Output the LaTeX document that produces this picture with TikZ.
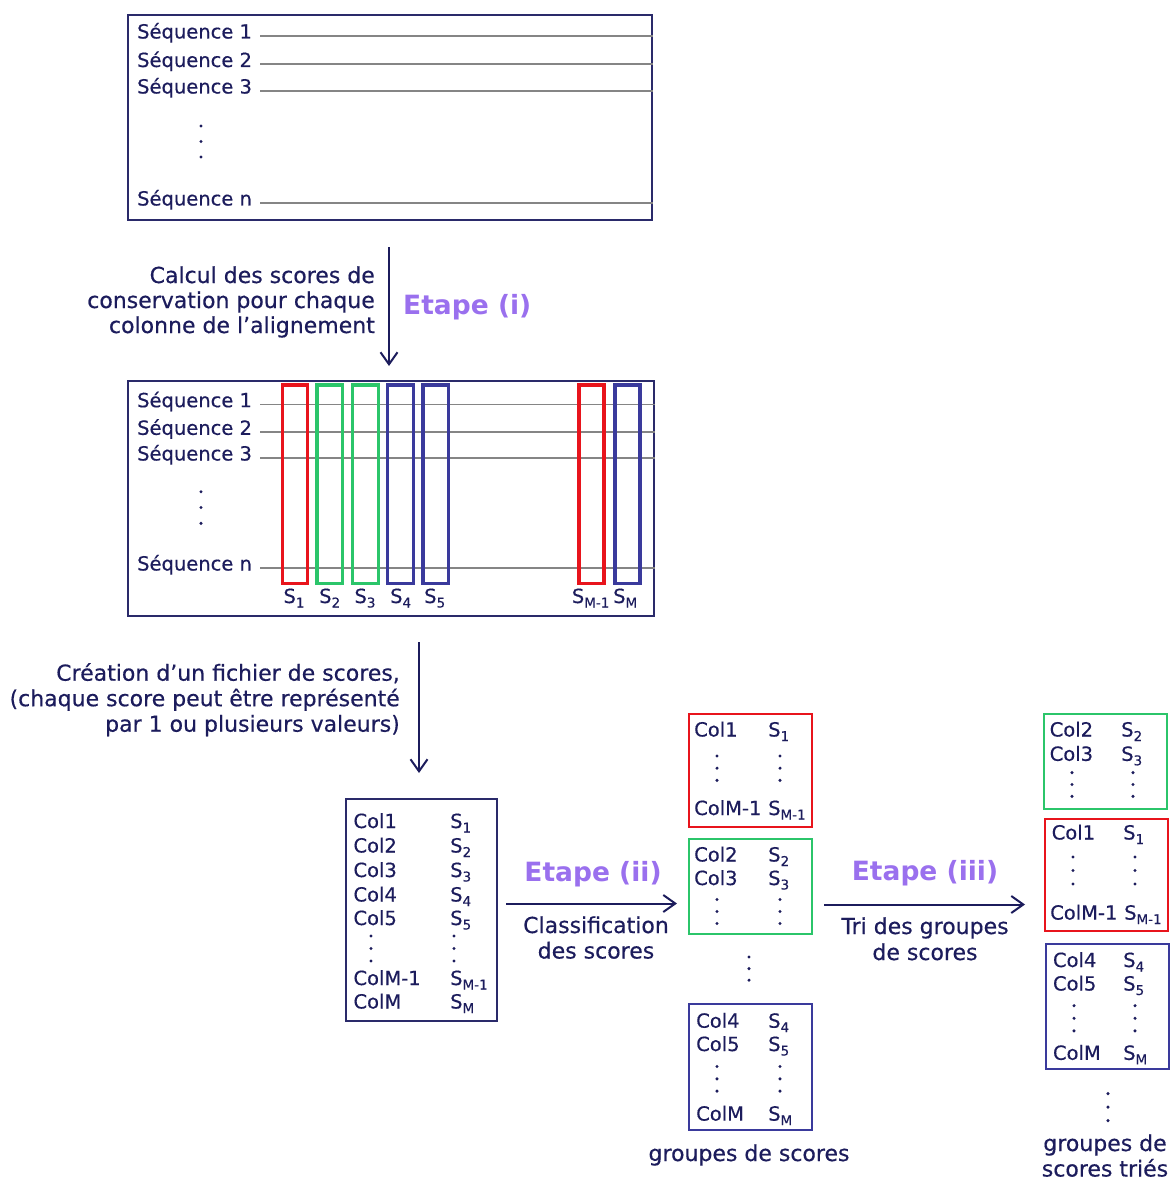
\documentclass[tikz,border=0pt]{standalone}
\usepackage{fontspec}
\setmainfont{DejaVu Sans}[UprightFeatures={FakeBold=0.45}]
\usetikzlibrary{arrows.meta}
\definecolor{navy}{HTML}{1C1C5C}
\definecolor{boxnavy}{HTML}{2A2A6A}
\definecolor{rred}{HTML}{E8141C}
\definecolor{rgreen}{HTML}{2BC56A}
\definecolor{rblue}{HTML}{3A3A9C}
\definecolor{etape}{HTML}{9A70EE}
\definecolor{seqgray}{HTML}{858585}
\newcommand\sub[1]{\raisebox{-4.5pt}{\fontsize{13.5}{13.5}\selectfont#1}}
\newcommand\vdts[3]{\foreach \k in {0,1,2}{\fill[navy] (#1,{#2+\k*#3}) circle (1.7);}}
\begin{document}
\begin{tikzpicture}[x=1pt,y=-1pt,
  txt/.style={inner sep=0pt, text=navy, font=\fontsize{19.5}{23}\selectfont, anchor=base west},
  ann/.style={inner sep=0pt, text=navy, font=\fontsize{22}{25}\selectfont},
  etp/.style={inner sep=0pt, text=etape, font=\fontsize{26.5}{30}\selectfont\bfseries, anchor=base},
  frame/.style={draw=boxnavy, line width=1.8pt, inner sep=0pt, anchor=north west},
  grp/.style={line width=2pt, inner sep=0pt, anchor=north west, minimum width=123, fill=none},
  seqline/.style={draw=seqgray, line width=1.8pt},
  colbox/.style={line width=3.5pt},
  arr/.style={draw=navy, line width=2pt, -{Straight Barb[length=12pt,width=17pt]}},
]
\useasboundingbox (0,0) rectangle (1170,1182);

% ---------- Box A ----------
\node[frame, minimum width=524, minimum height=205] (A) at (127,14) {};
\node[txt] (a1) at (137,38.5) {Séquence 1};
\node[txt] (a2) at (137,67) {Séquence 2};
\node[txt] (a3) at (137,93.5) {Séquence 3};
\node[txt] (an) at (137,205.5) {Séquence n};
\foreach \n in {a1,a2,a3,an}{\draw[seqline] ([xshift=8]\n.mid east) -- (\n.mid -| A.east);}
\vdts{201}{126}{15.5}

% ---------- Arrow (i) ----------
\coordinate (i1) at (389,247);
\coordinate (i2) at (389,366);
\draw[arr] (i1) -- (i2);
\node[ann, anchor=base east] (c1) at (375,283) {Calcul des scores de};
\node[ann, anchor=base east] (c2) at (375,308) {conservation pour chaque};
\node[ann, anchor=base east] (c3) at (375,333) {colonne de l’alignement};
\node[etp, anchor=base west] (e1) at (403,314) {Etape (i)};

% ---------- Box B ----------
\node[frame, minimum width=526, minimum height=235] (B) at (127,380) {};
\node[txt] (b1) at (137,407.2) {Séquence 1};
\node[txt] (b2) at (137,434.8) {Séquence 2};
\node[txt] (b3) at (137,460.5) {Séquence 3};
\node[txt] (bn) at (137,570.5) {Séquence n};
\foreach \n in {b1,b2,b3,bn}{\draw[seqline] ([xshift=8]\n.mid east) -- (\n.mid -| B.east);}
\vdts{201}{491.7}{15.8}
\draw[colbox, draw=rred]   (282.5,385) rectangle (307.3,583.3);
\draw[colbox, draw=rgreen] (316.8,385) rectangle (342.3,583.3);
\draw[colbox, draw=rgreen] (352.5,385) rectangle (378.3,583.3);
\draw[colbox, draw=rblue]  (387.5,385) rectangle (413.3,583.3);
\draw[colbox, draw=rblue]  (422.8,385) rectangle (448.3,583.3);
\draw[colbox, draw=rred]   (578.8,385) rectangle (604.0,583.3);
\draw[colbox, draw=rblue]  (614.8,385) rectangle (640.0,583.3);
\node[txt] (l1) at (283.3,603) {S\sub{1}};
\node[txt] (l2) at (319,603) {S\sub{2}};
\node[txt] (l3) at (354.3,603) {S\sub{3}};
\node[txt] (l4) at (390,603) {S\sub{4}};
\node[txt] (l5) at (424,603) {S\sub{5}};
\node[txt] (lm1) at (571.7,603) {S\sub{M-1}};
\node[txt] (lm) at (613,603) {S\sub{M}};

% ---------- Arrow 2 ----------
\coordinate (j1) at (419,642);
\coordinate (j2) at (419,773);
\draw[arr] (j1) -- (j2);
\node[ann, anchor=base east] (d1) at (400,680.7) {Création d’un fichier de scores,};
\node[ann, anchor=base east] (d2) at (400,706.2) {(chaque score peut être représenté};
\node[ann, anchor=base east] (d3) at (400,731.7) {par 1 ou plusieurs valeurs)};

% ---------- Box C ----------
\node[frame, minimum width=151, minimum height=222.3] (C) at (345,797.7) {};
\node[txt] (k1) at (353.3,828) {Col1};  \node[txt] (t1) at (450,828) {S\sub{1}};
\node[txt] (k2) at (353.3,852.5) {Col2};  \node[txt] (t2) at (450,852.5) {S\sub{2}};
\node[txt] (k3) at (353.3,877) {Col3};  \node[txt] (t3) at (450,877) {S\sub{3}};
\node[txt] (k4) at (353.3,901.5) {Col4};  \node[txt] (t4) at (450,901.5) {S\sub{4}};
\node[txt] (k5) at (353.3,925) {Col5};  \node[txt] (t5) at (450,925) {S\sub{5}};
\vdts{371}{936}{12.5}
\vdts{454}{936}{12.5}
\node[txt] (km1) at (353.3,985) {ColM-1};  \node[txt] (tm1) at (450,985) {S\sub{M-1}};
\node[txt] (km) at (353.3,1008.5) {ColM};  \node[txt] (tm) at (450,1008.5) {S\sub{M}};

% ---------- Arrow (ii) ----------
\coordinate (p1) at (506,903.5);
\coordinate (p2) at (677,903.5);
\draw[arr] (p1) -- (p2);
\node[etp] (e2) at (593,881) {Etape (ii)};
\node[ann, anchor=base] (f1) at (596,933) {Classification};
\node[ann, anchor=base] (f2) at (596,958.5) {des scores};

% ---------- Middle groups ----------
\node[grp, draw=rred, minimum height=113] (G1) at (688,712.5) {};
\node[txt] (g11) at (694,736.5) {Col1}; \node[txt] (g12) at (768,736.5) {S\sub{1}};
\vdts{717}{756}{12.2}
\vdts{780}{756}{12.2}
\node[txt] (g13) at (694,815) {ColM-1}; \node[txt] (g14) at (768,815) {S\sub{M-1}};

\node[grp, draw=rgreen, minimum height=95] (G2) at (688,837.5) {};
\node[txt] (g21) at (694,861.5) {Col2}; \node[txt] (g22) at (768,861.5) {S\sub{2}};
\node[txt] (g23) at (694,885) {Col3}; \node[txt] (g24) at (768,885) {S\sub{3}};
\vdts{717}{899.5}{12}
\vdts{780}{899.5}{12}

\vdts{749}{957}{11.6}

\node[grp, draw=rblue, minimum height=126] (G3) at (688,1003) {};
\node[txt] (g31) at (696,1027.7) {Col4}; \node[txt] (g32) at (768,1027.7) {S\sub{4}};
\node[txt] (g33) at (696,1051) {Col5}; \node[txt] (g34) at (768,1051) {S\sub{5}};
\vdts{717}{1066.5}{12.3}
\vdts{780}{1066.5}{12.3}
\node[txt] (g35) at (696,1120.6) {ColM}; \node[txt] (g36) at (768,1120.6) {S\sub{M}};
\node[ann, anchor=base] (h1) at (749,1161) {groupes de scores};

% ---------- Arrow (iii) ----------
\coordinate (q1) at (824,904.5);
\coordinate (q2) at (1025,904.5);
\draw[arr] (q1) -- (q2);
\node[etp] (e3) at (925,880) {Etape (iii)};
\node[ann, anchor=base] (m1) at (925,934) {Tri des groupes};
\node[ann, anchor=base] (m2) at (925,960) {de scores};

% ---------- Right groups ----------
\node[grp, draw=rgreen, minimum height=95] (R1) at (1043,712.5) {};
\node[txt] (r11) at (1049.5,736.5) {Col2}; \node[txt] (r12) at (1121,736.5) {S\sub{2}};
\node[txt] (r13) at (1049.5,760.8) {Col3}; \node[txt] (r14) at (1121,760.8) {S\sub{3}};
\vdts{1072}{772.6}{11.9}
\vdts{1133}{772.6}{11.9}

\node[grp, draw=rred, minimum height=112] (R2) at (1044,817.6) {};
\node[txt] (r21) at (1051.5,839.5) {Col1}; \node[txt] (r22) at (1123,839.5) {S\sub{1}};
\vdts{1073}{857}{13.5}
\vdts{1135}{857}{13.5}
\node[txt] (r23) at (1050,919.6) {ColM-1}; \node[txt] (r24) at (1124,919.6) {S\sub{M-1}};

\node[grp, draw=rblue, minimum height=125.4] (R3) at (1045,942.6) {};
\node[txt] (r31) at (1052.8,967) {Col4}; \node[txt] (r32) at (1123,967) {S\sub{4}};
\node[txt] (r33) at (1052.8,990.5) {Col5}; \node[txt] (r34) at (1123,990.5) {S\sub{5}};
\vdts{1074}{1005.7}{12.6}
\vdts{1135}{1005.7}{12.6}
\node[txt] (r35) at (1052.8,1059.8) {ColM}; \node[txt] (r36) at (1123,1059.8) {S\sub{M}};

\vdts{1108}{1093.6}{13.5}
\node[ann, anchor=base] (n1) at (1105,1151) {groupes de};
\node[ann, anchor=base] (n2) at (1105,1176.5) {scores triés};
\end{tikzpicture}
\end{document}
